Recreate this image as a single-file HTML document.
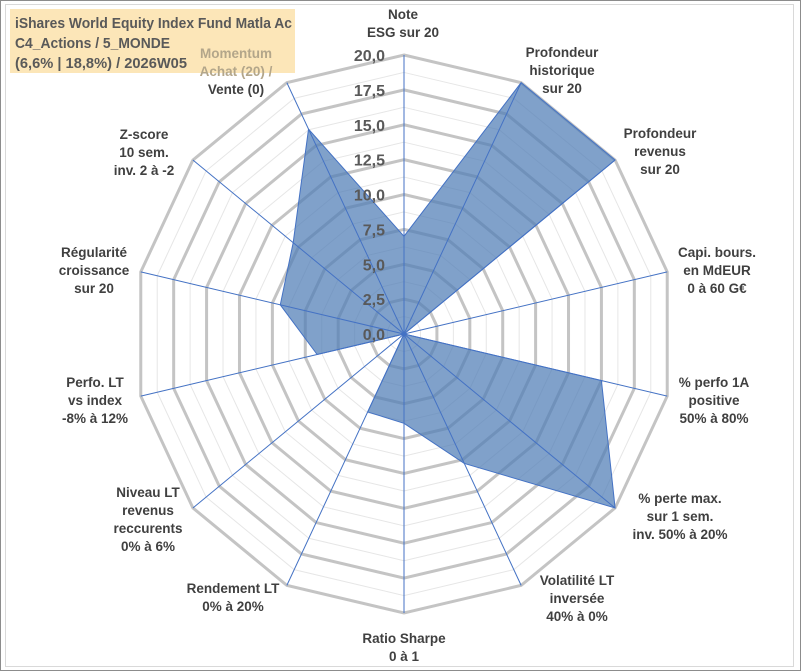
<!DOCTYPE html>
<html><head><meta charset="utf-8">
<style>
html,body{margin:0;padding:0;background:#fff;}
#wrap{position:relative;width:801px;height:671px;overflow:hidden;background:#fff;}
svg{position:absolute;left:0;top:0;}
text{font-family:"Liberation Sans",Arial,sans-serif;font-weight:bold;}
</style></head>
<body>
<div id="wrap">
<svg id="chart" width="801" height="671" viewBox="0 0 801 671"></svg>
</div>
<script>
const categories = [
 ["Note","ESG sur 20"],
 ["Profondeur","historique","sur 20"],
 ["Profondeur","revenus","sur 20"],
 ["Capi. bours.","en MdEUR","0 à 60 G€"],
 ["% perfo 1A","positive","50% à 80%"],
 ["% perte max.","sur 1 sem.","inv. 50% à 20%"],
 ["Volatilité LT","inversée","40% à 0%"],
 ["Ratio Sharpe","0 à 1"],
 ["Rendement LT","0% à 20%"],
 ["Niveau LT","revenus","reccurents","0% à 6%"],
 ["Perfo. LT","vs index","-8% à 12%"],
 ["Régularité","croissance","sur 20"],
 ["Z-score","10 sem.","inv. 2 à -2"],
 ["Momentum","Achat (20) /","Vente (0)"]
];
const seriesValues = [7, 20, 20, 0, 15, 20, 10.3, 6.4, 6.2, 0, 6.6, 9.4, 10.5, 16.3];
const tickValues = [0, 2.5, 5, 7.5, 10, 12.5, 15, 17.5, 20];
const tickLabels = ["0,0","2,5","5,0","7,5","10,0","12,5","15,0","17,5","20,0"];
const maxValue = 20;

const NS = "http://www.w3.org/2000/svg";
const svg = document.getElementById("chart");
const cx = 404, cy = 334, rx = 270, ry = 279;
const N = categories.length;
function pt(i, v){
  const a = i * 2 * Math.PI / N;
  return [cx + Math.sin(a) * rx * v / maxValue, cy - Math.cos(a) * ry * v / maxValue];
}
function mk(tag, attrs){
  const e = document.createElementNS(NS, tag);
  for (const k in attrs) e.setAttribute(k, attrs[k]);
  svg.appendChild(e);
  return e;
}
let fr = mk("rect",{x:0.5,y:0.5,width:800,height:670,fill:"#fff",stroke:"#8c8c8c"});


let fr2 = mk("rect",{x:5.5,y:4.5,width:788,height:662,fill:"none",stroke:"#d9d9d9"});


let tb = mk("rect",{x:10,y:9,width:285,height:64,fill:"#fce6b8"});


for (let v = 1.25; v < maxValue; v += 2.5){
  const pts = []; for (let i=0;i<N;i++) pts.push(pt(i,v).join(","));
  let r = mk("polygon",{points:pts.join(" "),fill:"none",stroke:"#e6e6e6","stroke-width":1});
  
  
}
tickValues.forEach(v=>{
  if (v===0) return;
  const pts = []; for (let i=0;i<N;i++) pts.push(pt(i,v).join(","));
  let r = mk("polygon",{points:pts.join(" "),fill:"none",stroke:"#c4c4c4","stroke-width":3});
  
  
});
const sp = seriesValues.map((v,i)=>pt(i,v).join(","));
let poly = mk("polygon",{points:sp.join(" "),fill:"#4f7db5","fill-opacity":0.72,stroke:"#4472c4","stroke-width":1});


for (let i=0;i<N;i++){
  const p = pt(i,maxValue);
  let l = mk("line",{x1:cx,y1:cy,x2:p[0],y2:p[1],stroke:"#4472c4","stroke-width":1});
  
  
}
tickValues.forEach((v,k)=>{
  const t = mk("text",{x:385,y:cy - ry*v/maxValue + 6,"text-anchor":"end","font-size":16,fill:"#595959"});
  t.textContent = tickLabels[k];
  
  
});
const labelPos = [[403,14],[562,52],[660,133],[717,252],[714,382],[680,498],[577,580],[404,638],[233,588],[148,492],[95,382],[94,252],[144,134],[236,53]];
categories.forEach((lines,i)=>{
  const [x,y] = labelPos[i];
  lines.forEach((s,j)=>{
    let col = "#404040";
    if (i===13 && j<2) col = "#b3a68a";
    const t = mk("text",{x:x,y:y+j*18+5,"text-anchor":"middle","font-size":13.5,fill:col});
    t.textContent = s;
    
    
  });
});
const titles = ["iShares World Equity Index Fund Matla Ac","C4_Actions / 5_MONDE","(6,6% | 18,8%) / 2026W05"];
const titleLens = [277, 155, 172];
titles.forEach((s,j)=>{
  const t = mk("text",{x:15,y:28+j*20,"font-size":15,fill:"#595959",textLength:titleLens[j],lengthAdjust:"spacingAndGlyphs"});
  t.textContent = s;
  
  
});
</script>
</body></html>
